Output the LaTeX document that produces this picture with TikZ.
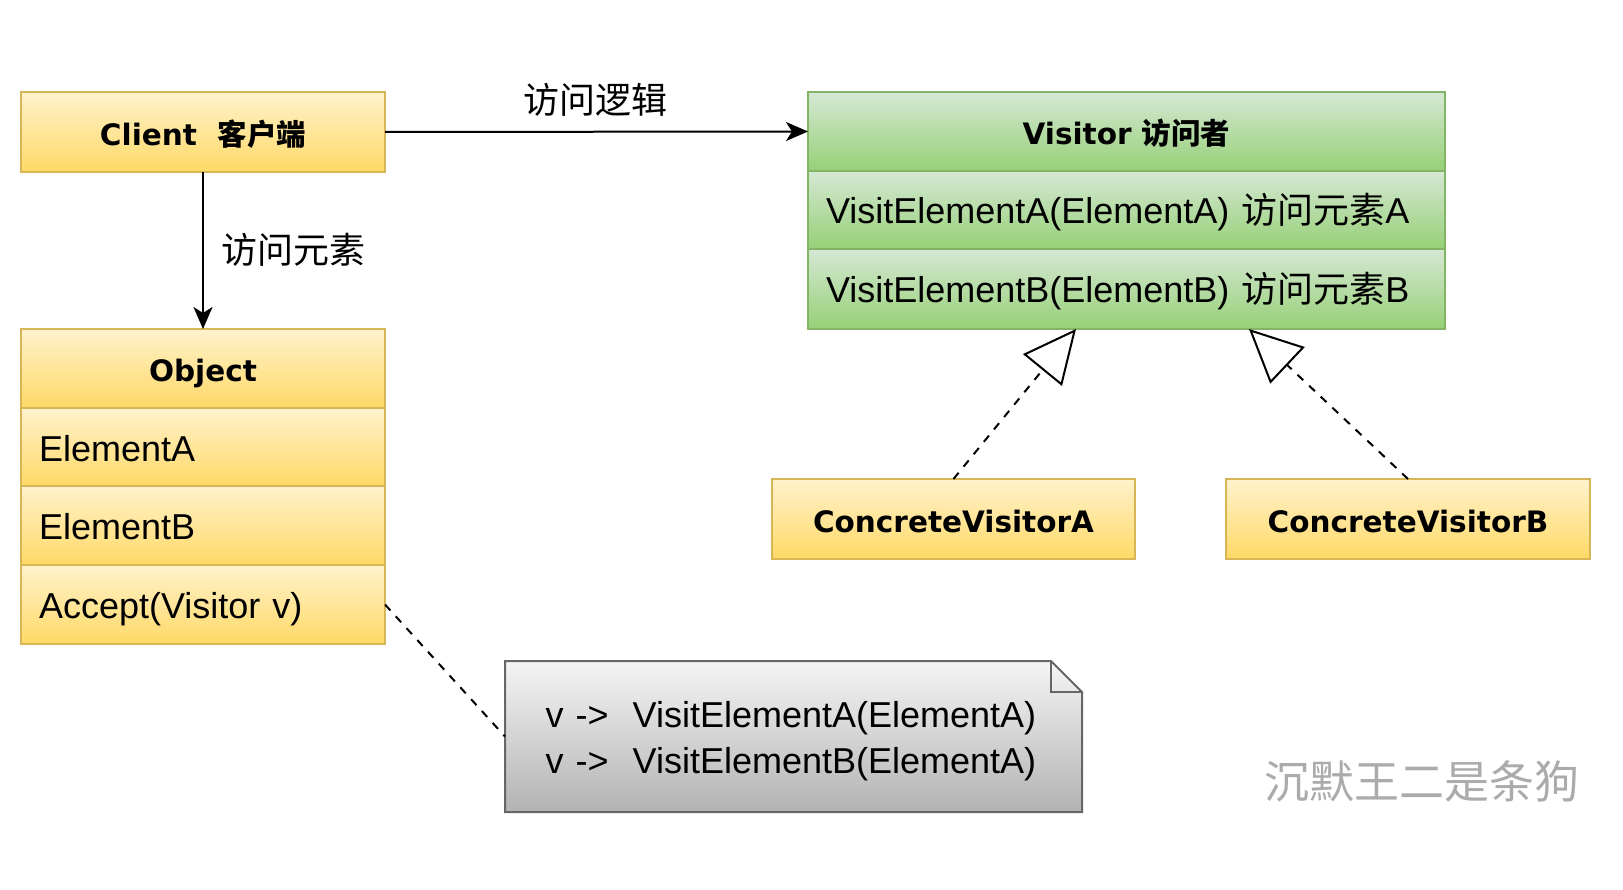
\documentclass[tikz,border=0pt]{standalone}
\usepackage{fontspec}
\setmainfont{Liberation Sans}
\newfontfamily\dvs{DejaVu Sans}
\newfontfamily\cjk{Noto Sans CJK SC}
\usetikzlibrary{arrows.meta,backgrounds,calc}
\definecolor{ytop}{HTML}{FFF2CC}
\definecolor{ybot}{HTML}{FFD966}
\definecolor{ybord}{HTML}{D6B656}
\definecolor{gtop}{HTML}{D5E8D4}
\definecolor{gbot}{HTML}{97D077}
\definecolor{gbord}{HTML}{82B366}
\definecolor{ntop}{HTML}{F5F5F5}
\definecolor{nbot}{HTML}{B3B3B3}
\definecolor{nbord}{HTML}{666666}
\definecolor{wmc}{HTML}{ABABAB}
\begin{document}
\begin{tikzpicture}[x=1pt,y=-1pt,
  cell/.style={line width=2pt, inner sep=0pt, outer sep=0pt},
  yel/.style={cell, draw=ybord, top color=ytop, bottom color=ybot},
  grn/.style={cell, draw=gbord, top color=gtop, bottom color=gbot},
  hdr/.style={font=\dvs\bfseries\fontsize{29.5}{35}\selectfont, align=center, text height=27pt, text depth=0pt},
  row/.style={font=\fontsize{36}{43}\selectfont, align=left, inner xsep=18pt, text height=28pt, text depth=0pt},
  lbl/.style={font=\cjk\fontsize{36}{43}\selectfont},
  arr/.style={line width=2pt, -{Stealth[length=22pt,width=19pt,inset=6pt]}},
  real/.style={line width=2pt, dash pattern=on 8pt off 8pt, -{Triangle[open,length=53pt,width=50pt,fill=white]}},
  assoc/.style={line width=2pt, dash pattern=on 8pt off 8pt}
]
\useasboundingbox (0,0) rectangle (1623,890);

% Client
\node[yel, hdr, minimum width=364pt, minimum height=80pt] (client) at (203,132) {Client\ \ {\cjk\bfseries 客户端}};

% Object
\node[yel, hdr, minimum width=364pt, minimum height=79pt] (objh) at (203,368.5) {Object};
\node[yel, row, text width=328pt, minimum height=78pt] (eA) at (203,447) {ElementA};
\node[yel, row, text width=328pt, minimum height=79pt] (eB) at (203,525.5) {ElementB};
\node[yel, row, text width=328pt, minimum height=79pt] (acc) at (203,604.5) {Accept(Visitor v)};

% Visitor
\node[grn, hdr, minimum width=637pt, minimum height=79pt] (visitor) at (1126.5,131.5) {Visitor {\cjk\bfseries 访问者}};
\node[grn, row, text width=601pt, minimum height=78pt] (vA) at (1126.5,210) {VisitElementA(ElementA) {\cjk 访问元素}A};
\node[grn, row, text width=601pt, minimum height=80pt] (vB) at (1126.5,289) {VisitElementB(ElementB) {\cjk 访问元素}B};

% Concrete visitors
\node[yel, hdr, minimum width=363pt, minimum height=80pt] (cvA) at (953.5,519) {ConcreteVisitorA};
\node[yel, hdr, minimum width=364pt, minimum height=80pt] (cvB) at (1408,519) {ConcreteVisitorB};

% Note
\node[cell, minimum width=577pt, minimum height=151pt] (note) at (793.5,736.5) {};
\begin{scope}[on background layer]
\shadedraw[top color=ntop, bottom color=nbot, draw=nbord, line width=2pt, line join=miter]
  (note.north west) -- ([xshift=-31pt]note.north east) -- ([yshift=-31pt]note.north east)
  -- (note.south east) -- (note.south west) -- cycle;
\draw[nbord, line width=2pt] ([xshift=-31pt]note.north east) -- ([xshift=-31pt,yshift=-31pt]note.north east) -- ([yshift=-31pt]note.north east);
\end{scope}
\node[inner sep=0pt, text width=496pt, align=left, font=\fontsize{36}{46}\selectfont, anchor=west] (notetext) at ([xshift=40.5pt,yshift=-5pt]note.west) {v -> \ VisitElementA(ElementA)\\ v -> \ VisitElementB(ElementA)};

% Connectors
\draw[arr] (client.east) -- (visitor.west);
\node[lbl] (l1) at (595,100) {访问逻辑};
\draw[arr] (client.south) -- (objh.north);
\node[lbl] (l2) at (293,250) {访问元素};
\draw[real] (cvA.north) -- ([xshift=-50.5pt]vB.south);
\draw[real] (cvB.north) -- ([xshift=122.5pt]vB.south);
\draw[assoc] (acc.east) -- (note.west);

% Watermark
\node[font=\cjk\fontsize{45}{50}\selectfont, text=wmc] (wm) at (1422,781) {沉默王二是条狗};
\end{tikzpicture}
\end{document}
